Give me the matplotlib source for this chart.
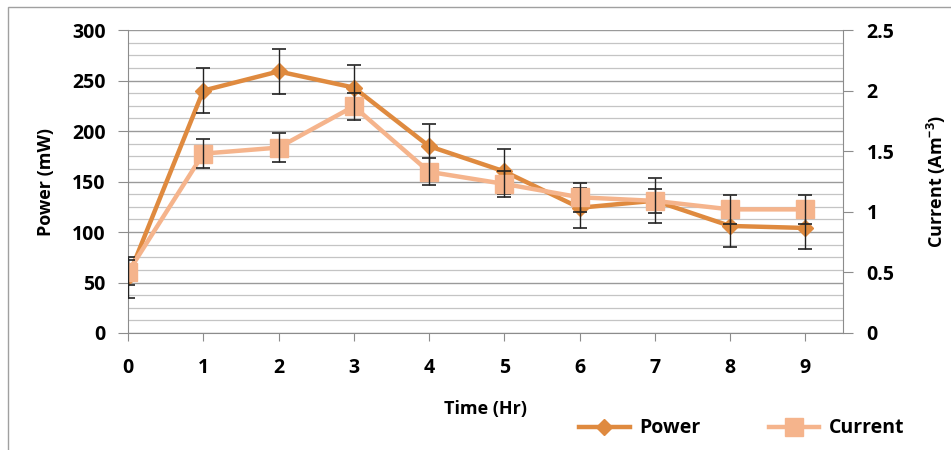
import numpy as np
import matplotlib as mpl
mpl.use('Agg')
import matplotlib.pyplot as plt
from matplotlib.ticker import MultipleLocator
from matplotlib.patches import Rectangle

# time points and measured series
hours = [0, 1, 2, 3, 4, 5, 6, 7, 8, 9]
power = [55, 240, 259, 243, 185, 160, 124, 131, 106, 104]
power_err = [20, 22, 22, 22, 22, 22, 20, 22, 21, 21]
current = [0.50, 1.48, 1.53, 1.87, 1.33, 1.23, 1.12, 1.09, 1.02, 1.02]
current_err = [0.10, 0.12, 0.12, 0.11, 0.11, 0.11, 0.12, 0.10, 0.12, 0.12]

power_col = '#DF8A3F'
current_col = '#F5B48C'
axis_col = '#8C8C8C'

plt.rcParams['font.family'] = ['Open Sans', 'DejaVu Sans']
plt.rcParams['font.weight'] = 'bold'
plt.rcParams['mathtext.fontset'] = 'custom'
plt.rcParams['mathtext.rm'] = 'Open Sans:bold'
plt.rcParams['mathtext.default'] = 'rm'

fig = plt.figure(figsize=(9.51, 4.5), dpi=100)
ax = fig.add_axes([0.1346, 0.26, 0.7518, 0.6733])
ax2 = ax.twinx()

# outer chart border
fig.patches.append(Rectangle((8 / 951, -0.1), 1.2, 1 - 7 / 450 + 0.1,
                             transform=fig.transFigure, fill=False,
                             edgecolor='#A0A0A0', lw=1.0))

ax.set_xlim(0, 9.5)
ax.set_ylim(0, 300)
ax2.set_ylim(0, 2.5)

ax.yaxis.set_major_locator(MultipleLocator(50))
ax.yaxis.set_minor_locator(MultipleLocator(12.5))
ax.set_xticks(hours)

ax.grid(axis='y', which='major', color='#9A9A9A', lw=1.0)
ax.grid(axis='y', which='minor', color='#C4C4C4', lw=0.9)
ax.set_axisbelow(True)

ax.plot(hours, power, color=power_col, lw=3.2, marker='D', ms=8,
        mec=power_col, mfc=power_col, zorder=3)
ax.errorbar(hours, power, yerr=power_err, fmt='none', ecolor='#222222',
            elinewidth=1.0, capsize=5, capthick=1.2, zorder=5)

ax2.plot(hours, current, color=current_col, lw=3.2, marker='s', ms=13,
         mec=current_col, mfc=current_col, zorder=3)
ax2.errorbar(hours, current, yerr=current_err, fmt='none', ecolor='#222222',
             elinewidth=1.0, capsize=5, capthick=1.2, zorder=5)

for a in (ax, ax2):
    for s in a.spines.values():
        s.set_visible(False)
ax.spines['left'].set_visible(True)
ax.spines['left'].set_color(axis_col)
ax.spines['bottom'].set_visible(True)
ax.spines['bottom'].set_color(axis_col)
ax2.spines['right'].set_visible(True)
ax2.spines['right'].set_color(axis_col)

ax.tick_params(axis='y', which='major', length=7, color=axis_col,
               labelsize=14, pad=9)
ax.tick_params(axis='y', which='minor', length=0)
ax.tick_params(axis='x', length=6, color=axis_col, labelsize=14, pad=12)
ax2.tick_params(axis='y', length=7, color=axis_col, labelsize=14, pad=10)
ax2.set_yticks([0, 0.5, 1, 1.5, 2, 2.5])
ax2.set_yticklabels(['0', '0.5', '1', '1.5', '2', '2.5'])
for lab in ax.get_xticklabels() + ax.get_yticklabels() + ax2.get_yticklabels():
    lab.set_fontweight('bold')

ax.set_xlabel('Time (Hr)', fontsize=13, fontweight='bold', labelpad=16)
ax.set_ylabel('Power (mW)', fontsize=13, fontweight='bold', labelpad=12)
ax2.set_ylabel('Current (Am$^{-3}$)', fontsize=13,
               fontweight='bold', labelpad=22)

h1 = plt.Line2D([], [], color=power_col, lw=3.2, marker='D', ms=8)
h2 = plt.Line2D([], [], color=current_col, lw=3.2, marker='s', ms=13)
leg = fig.legend([h1, h2], ['Power', 'Current'], ncol=2, frameon=False,
                 loc='center', bbox_to_anchor=(0.78, 0.048), fontsize=14,
                 handlelength=2.6, columnspacing=3.5, handletextpad=0.5)
for t in leg.get_texts():
    t.set_fontweight('bold')

fig.savefig('out.png', dpi=100)
